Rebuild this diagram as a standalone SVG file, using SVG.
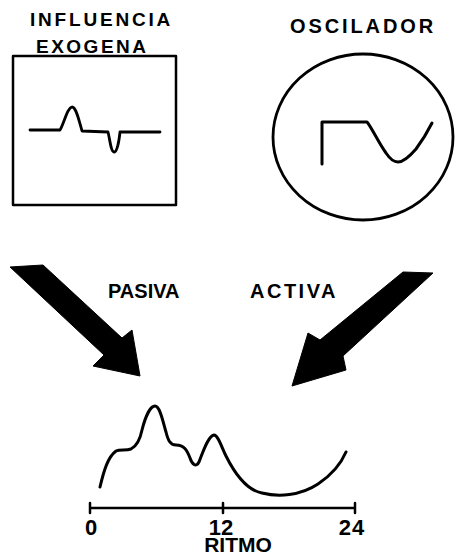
<svg xmlns="http://www.w3.org/2000/svg" width="456" height="555" viewBox="0 0 456 555">
  <style>
    .lbl { font-family: "Liberation Sans", Arial, sans-serif; font-weight: bold; fill: #000; }
    .line { fill: none; stroke: #000; stroke-linecap: round; stroke-linejoin: round; }
    .arrow { fill: #000; stroke: #000; stroke-width: 1; stroke-linejoin: round; }
  </style>
  <rect width="456" height="555" fill="#fff"/>

  <!-- exogenous influence: boxed pulse signal -->
  <g id="influencia">
    <text class="lbl" x="30" y="26" font-size="19" letter-spacing="2.8">INFLUENCIA</text>
    <text class="lbl" x="36" y="53" font-size="19" letter-spacing="2.5">EXOGENA</text>
    <rect class="line" x="13" y="56" width="163" height="149" stroke-width="2.5"/>
    <path class="line" stroke-width="2.8" d="M30,130 L60,130 C64,124 67,108 72,107 C76,107 79,120 82,131 L108,132 C110,140 111,152 114,152 C117,152 119,142 120,132 L160,132"/>
  </g>

  <!-- oscillator: circle with waveform -->
  <g id="oscilador">
    <text class="lbl" x="290" y="33" font-size="20" letter-spacing="2.9">OSCILADOR</text>
    <ellipse class="line" cx="363" cy="137" rx="90" ry="83" stroke-width="2.8"/>
    <path class="line" stroke-width="3" d="M322,164 L322,122 L367,122 C372,128 378,142 386,153 C390,159 394,162 398,162 C404,162 410,156 416,149 C422,141 428,131 432,123"/>
  </g>

  <!-- connectors: the two heavy arrows and their labels -->
  <g id="conectores">
    <polygon class="arrow" points="10,267 43,265 122,338 132,330 140,376 93,366 104,355"/>
    <polygon class="arrow" points="403,272 433,273 343,356 346,370 292,386 308,333 320,340"/>
    <text class="lbl" x="108" y="298" font-size="20">PASIVA</text>
    <text class="lbl" x="250" y="298" font-size="20" letter-spacing="2.5">ACTIVA</text>
  </g>

  <!-- resulting rhythm over a 24 h axis -->
  <g id="ritmo">
    <path class="line" stroke-width="3" d="M100,487 C104,470 108,457 116,451 C120,449 126,451 131,449 C137,446 140,440 142,430 C145,418 150,406 155,406 C160,406 163,422 166,432 C168,440 170,445 176,445 C184,445 187,450 190,458 C192,464 196,468 199,462 C203,452 208,436 214,435 C218,435 222,448 226,456 C234,472 246,490 262,493 C278,497 300,496 318,484 C330,476 340,466 346,452"/>
    <path class="line" stroke-width="2.5" d="M90,508 L355,508 M90,503 L90,513 M223,503 L223,513 M355,503 L355,513"/>
    <text class="lbl" x="91" y="535" font-size="22" text-anchor="middle">0</text>
    <text class="lbl" x="221" y="535" font-size="22" text-anchor="middle">12</text>
    <text class="lbl" x="352" y="535" font-size="22" text-anchor="middle" letter-spacing="1">24</text>
    <text class="lbl" x="238" y="552" font-size="21" text-anchor="middle">RITMO</text>
  </g>
</svg>
